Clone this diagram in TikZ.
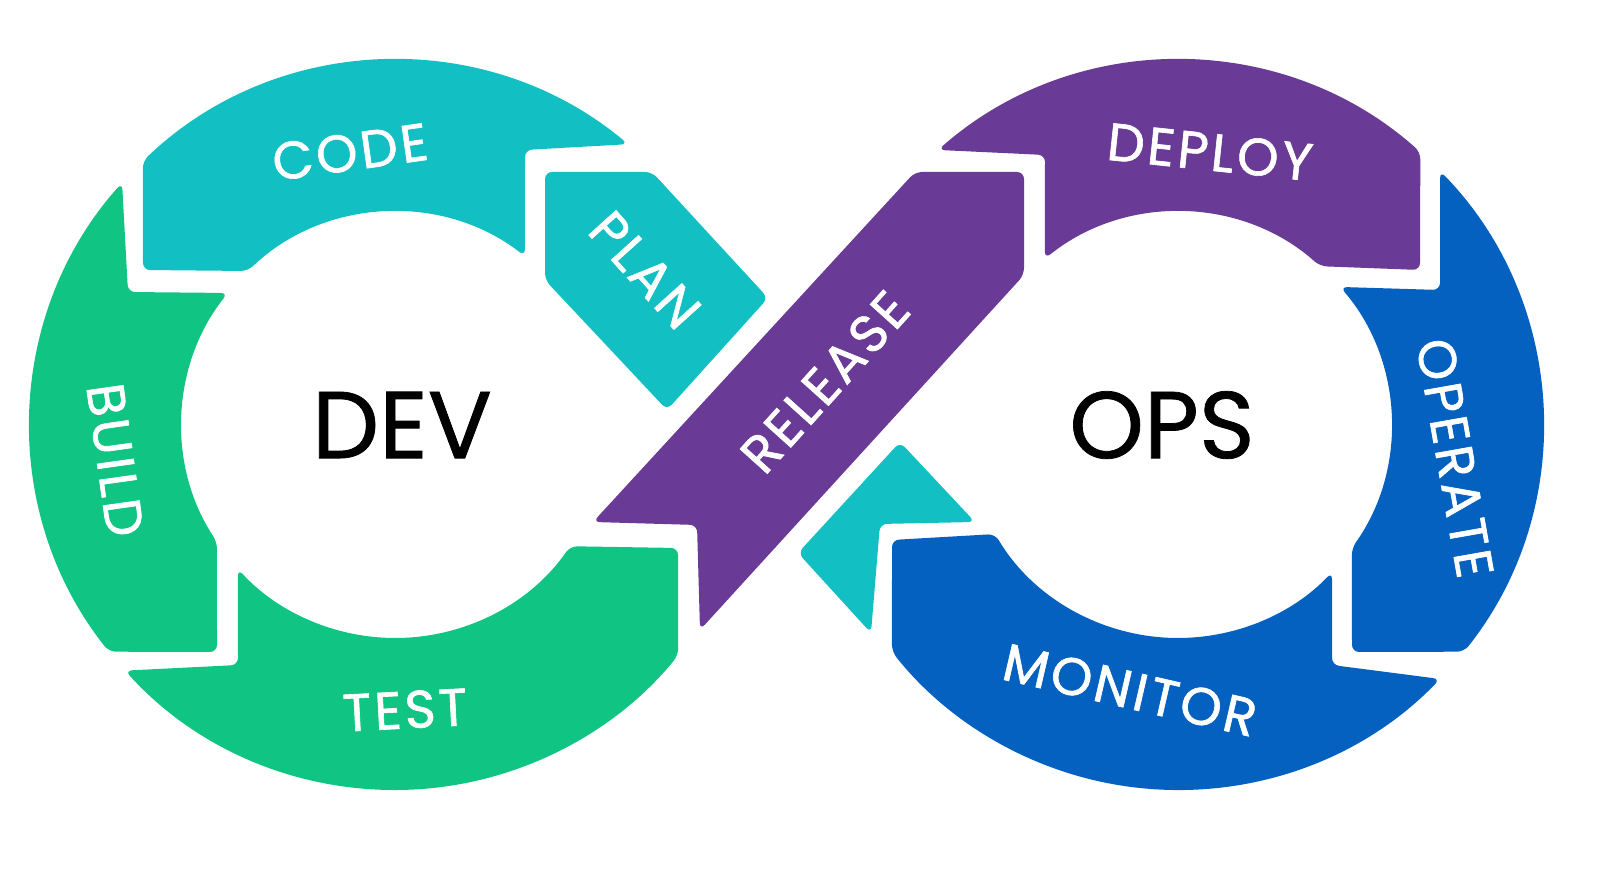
\documentclass[tikz,border=0pt]{standalone}
\usepackage{fontspec}
\setmainfont{Poppins}
\newfontfamily\lblfont[LetterSpace=6,FakeBold=1.2]{Poppins}
\newfontfamily\bigfont[FakeBold=0.8]{Poppins}
\definecolor{tealc}{HTML}{12C0C3}
\definecolor{grn}{HTML}{10C483}
\definecolor{purp}{HTML}{6A3B96}
\definecolor{blu}{HTML}{0561BF}
\tikzset{seg/.style={draw=none,rounded corners=2pt},
lbl/.style={text=white,inner sep=0pt,font=\lblfont\fontsize{15}{15}\selectfont},
big/.style={text=black,font=\bigfont\fontsize{27}{27}\selectfont}}
\begin{document}
\begin{tikzpicture}[x=0.01cm,y=0.01cm]
\useasboundingbox (0,0) rectangle (1600,-871);
\begin{scope}[shift={(395,-425)}]
\fill[tealc,seg] (133.7:365) arc[start angle=133.7,end angle=50.3,radius=365] -- (130,275) -- (52.4:213) arc[start angle=52.4,end angle=133.7,radius=213] -- (-252,155) -- cycle;
\fill[grn,seg] (138.4:365) arc[start angle=138.4,end angle=218.4,radius=365] -- (-178,-227) -- (213.3:213) arc[start angle=213.3,end angle=141.7,radius=213] -- (-267,133) -- cycle;
\fill[grn,seg] (222.3:365) arc[start angle=222.3,end angle=320.9,radius=365] -- (283,-123) -- (325.3:213) arc[start angle=325.3,end angle=222.5,radius=213] -- (-157,-240) -- cycle;
\end{scope}
\begin{scope}[shift={(1178,-425)}]
\fill[purp,seg] (131.1:365) arc[start angle=131.1,end angle=48.4,radius=365] -- (242,155) -- (48.2:213) arc[start angle=48.2,end angle=128.7,radius=213] -- (-133,270) -- cycle;
\fill[blu,seg] (44.1:365) arc[start angle=44.1,end angle=-38.4,radius=365] -- (174,-227) -- (-35.3:213) arc[start angle=-35.3,end angle=40.4,radius=213] -- (262,135) -- cycle;
\fill[blu,seg] (-44.1:365) arc[start angle=-44.1,end angle=-141.6,radius=365] -- (-286,-115) -- (210.8:213) arc[start angle=210.8,end angle=316.3,radius=213] -- (154,-240) -- cycle;
\end{scope}
\fill[tealc,seg] (545,-172)--(652,-172)--(768,-298)--(667,-410)--(545,-280)--cycle;
\fill[tealc,seg] (900,-442)--(975,-522)--(880,-524)--(871,-633)--(798,-553)--cycle;
\fill[purp,seg] (593,-522)--(915,-172)--(1024,-172)--(1024,-275)--(700,-630)--(697,-525)--cycle;
\node[lbl,rotate=8] (code) at (350,-152) {CODE};
\node[lbl,rotate=-48] (plan) at (645,-270) {PLAN};
\node[lbl,rotate=-82] (build) at (115,-460) {BUILD};
\node[lbl,rotate=3] (test) at (405,-710) {TEST};
\node[lbl,rotate=48] (release) at (825,-382) {RELEASE};
\node[lbl,rotate=-6] (deploy) at (1210,-152) {DEPLOY};
\node[lbl,rotate=-80] (operate) at (1455,-458) {OPERATE};
\node[lbl,rotate=-13] (monitor) at (1130,-690) {MONITOR};
\node[big] (dev) at (402,-425) {DEV};
\node[big] (ops) at (1162,-425) {OPS};
\end{tikzpicture}
\end{document}
